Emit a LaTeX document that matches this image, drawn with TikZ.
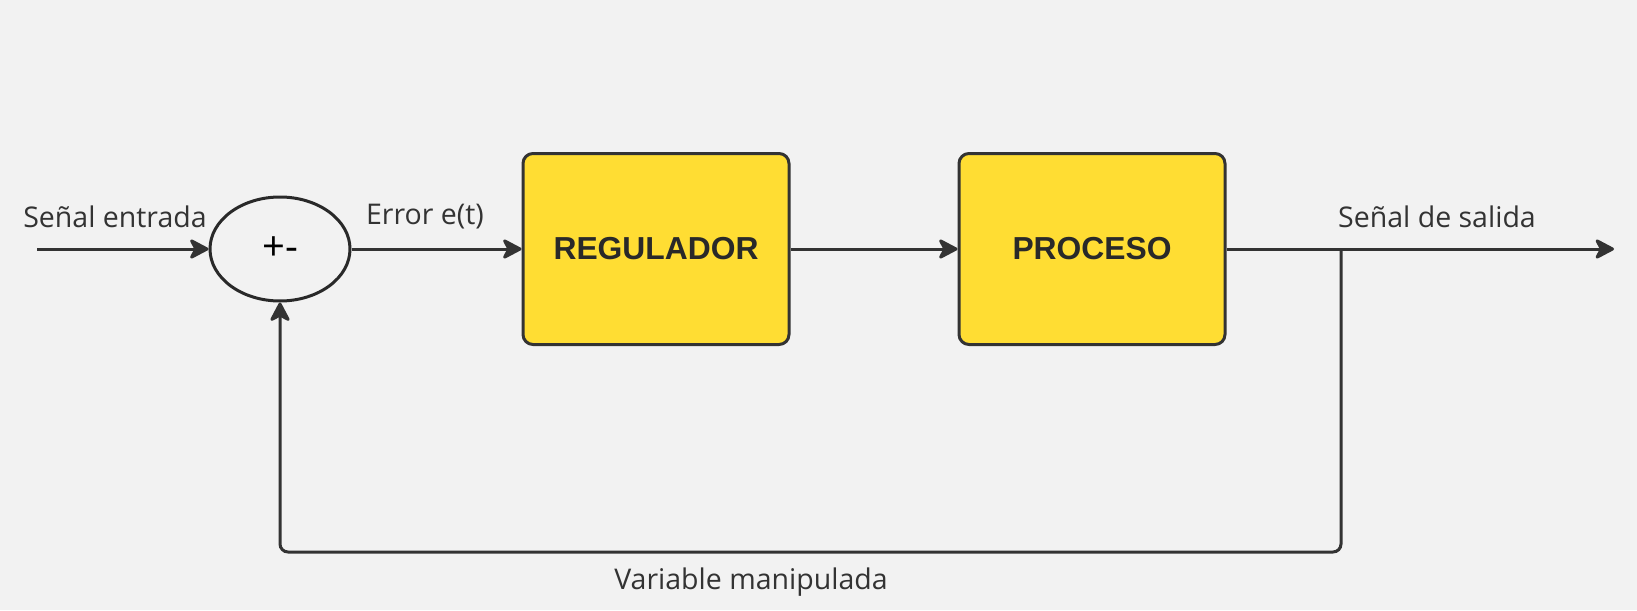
\documentclass[tikz,border=0pt]{standalone}
\usepackage{fontspec}
\setmainfont{Open Sans}
\newfontfamily\boxfont{Liberation Sans}
\usetikzlibrary{arrows.meta,shapes.geometric}
\definecolor{bgcol}{HTML}{F2F2F2}
\definecolor{boxyellow}{HTML}{FFDD33}
\definecolor{linecol}{HTML}{333333}
\tikzset{
  flow/.style={draw=linecol, line width=3pt, -{Stealth[length=22pt,width=23pt,inset=6pt,round]}},
  bloque/.style={draw=linecol, line width=3pt, fill=boxyellow, rounded corners=10pt,
    minimum width=266pt, minimum height=191pt, inner sep=0pt,
    font=\boxfont\bfseries\fontsize{31.8pt}{34pt}\selectfont, text=linecol!80!black},
  sumador/.style={draw=linecol!80!black, line width=3pt, ellipse, minimum width=140pt,
    minimum height=104pt, inner sep=0pt, font=\fontsize{40pt}{44pt}\selectfont},
  etiqueta/.style={inner sep=0pt, text=linecol, font=\fontsize{28.5pt}{32pt}\selectfont}
}
\begin{document}
\begin{tikzpicture}[x=1pt,y=-1pt]
  %%%%% START %%%%%
  \def\ym{249}
  \def\ybot{552}
  \def\xtap{1341}
  \fill[bgcol] (0,0) rectangle (1637,610);
  \useasboundingbox (0,0) rectangle (1637,610);

  \node[sumador] (sum) at (280,\ym) {+-};
  \node[bloque] (reg) at (656,\ym) {REGULADOR};
  \node[bloque] (proc) at (1092,\ym) {PROCESO};

  \coordinate (in) at (37,\ym);
  \coordinate (out) at (1614,\ym);
  \coordinate (tap) at (\xtap,\ym);
  \coordinate (fbr) at (\xtap,\ybot);
  \coordinate (fbl) at (280,\ybot);

  \draw[flow] (in) -- (sum);
  \draw[flow] (sum) -- (reg);
  \draw[flow] (reg) -- (proc);
  \draw[flow] (proc) -- (out);
  \draw[flow, rounded corners=8pt] (tap) -- (fbr) -- (fbl) -- (sum.south);

  \node[etiqueta] (lin) at (115,217) {Señal entrada};
  \node[etiqueta] (lerr) at (425,217) {Error e(t)};
  \node[etiqueta] (lout) at (1437,217) {Señal de salida};
  \node[etiqueta] (lfb) at (751,582) {Variable manipulada};
  %%%%% END %%%%%
\end{tikzpicture}
\end{document}
